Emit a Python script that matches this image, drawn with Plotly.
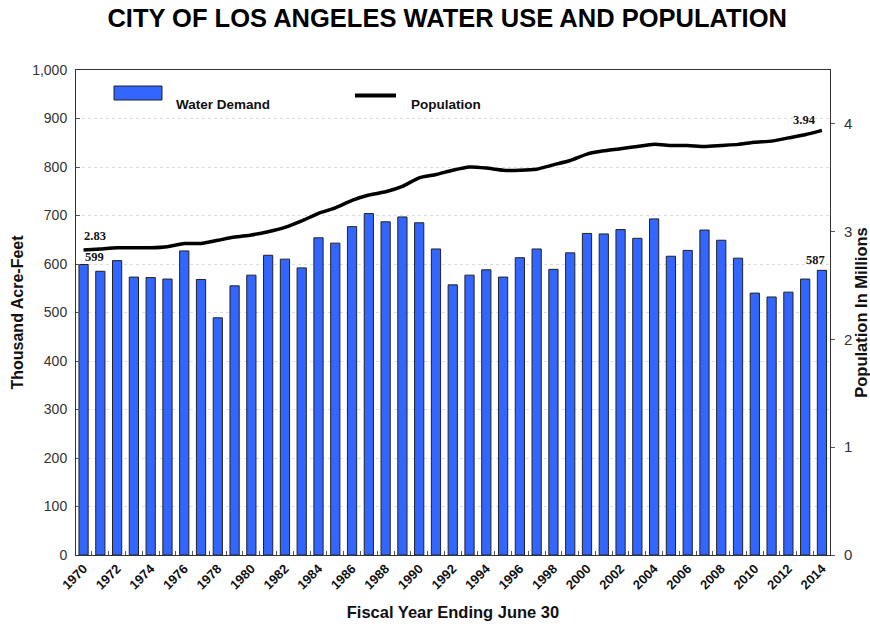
import plotly.graph_objects as go

# Fiscal years and values
years = list(range(1970, 2015))
water_demand = [599, 585, 607, 573, 572, 569, 627, 568, 489, 555,
                577, 618, 610, 592, 654, 643, 677, 704, 687, 697,
                685, 631, 557, 577, 588, 573, 613, 631, 589, 623,
                663, 662, 671, 653, 693, 616, 628, 670, 649, 612,
                540, 532, 542, 569, 587]
population = [2.83, 2.84, 2.85, 2.85, 2.85, 2.86, 2.89, 2.89, 2.92, 2.95,
              2.97, 3.00, 3.04, 3.10, 3.17, 3.22, 3.29, 3.34, 3.37, 3.42,
              3.50, 3.53, 3.57, 3.60, 3.59, 3.57, 3.57, 3.58, 3.62, 3.66,
              3.72, 3.75, 3.77, 3.79, 3.81, 3.80, 3.80, 3.79, 3.80, 3.81,
              3.83, 3.84, 3.87, 3.90, 3.94]
x_tick_labels = [str(y) for y in range(1970, 2015, 2)]

BLUE = "#3366FF"
SANS = "Liberation Sans, Arial, sans-serif"
SERIF = "Liberation Serif, Times New Roman, serif"

fig = go.Figure()

fig.add_trace(go.Bar(
    x=years, y=water_demand, name="Water Demand",
    width=0.55,
    marker=dict(color=BLUE, line=dict(color="#222222", width=1)),
    showlegend=False,
))

fig.add_trace(go.Scatter(
    x=years, y=population, name="Population", yaxis="y2",
    mode="lines",
    line=dict(color="black", width=3.5, shape="spline", smoothing=0.5),
    showlegend=False,
))

# End-point value labels
fig.add_annotation(x=years[0], y=water_demand[0], text="<b>%d</b>" % water_demand[0],
                   xref="x", yref="y", xanchor="left", yanchor="bottom",
                   xshift=-1, yshift=-2, showarrow=False,
                   font=dict(family=SERIF, size=12.5, color="#111111"))
fig.add_annotation(x=years[-1], y=water_demand[-1], text="<b>%d</b>" % water_demand[-1],
                   xref="x", yref="y", xanchor="right", yanchor="bottom",
                   xshift=5, yshift=1, showarrow=False,
                   font=dict(family=SERIF, size=12.5, color="#111111"))
fig.add_annotation(x=years[0], y=population[0], text="<b>%.2f</b>" % population[0],
                   xref="x", yref="y2", xanchor="left", yanchor="bottom",
                   xshift=-2, yshift=5, showarrow=False,
                   font=dict(family=SERIF, size=12.5, color="#111111"))
fig.add_annotation(x=years[-1], y=population[-1], text="<b>%.2f</b>" % population[-1],
                   xref="x", yref="y2", xanchor="right", yanchor="bottom",
                   xshift=-4, yshift=1, showarrow=False,
                   font=dict(family=SERIF, size=12.5, color="#111111"))

# Legend drawn inside the plot area
fig.add_shape(type="rect", xref="paper", yref="paper",
              x0=(114 - 76) / 754, x1=(162 - 76) / 754,
              y0=(555 - 100) / 485, y1=(555 - 86) / 485,
              fillcolor=BLUE, line=dict(color="#222222", width=1))
fig.add_annotation(x=(174 - 76) / 754, y=(555 - 95) / 485, xref="paper", yref="paper",
                   text="<b>Water Demand</b>", showarrow=False, xanchor="left",
                   font=dict(family=SANS, size=13.5, color="#111111"))
fig.add_shape(type="line", xref="paper", yref="paper",
              x0=(355 - 76) / 754, x1=(396 - 76) / 754,
              y0=(555 - 95.5) / 485, y1=(555 - 95.5) / 485,
              line=dict(color="black", width=4))
fig.add_annotation(x=(409 - 76) / 754, y=(555 - 95) / 485, xref="paper", yref="paper",
                   text="<b>Population</b>", showarrow=False, xanchor="left",
                   font=dict(family=SANS, size=13.5, color="#111111"))

fig.update_layout(
    width=870, height=627,
    margin=dict(l=76, r=40, t=70, b=72),
    paper_bgcolor="white", plot_bgcolor="white",
    title=dict(text="<b>CITY OF LOS ANGELES WATER USE AND POPULATION</b>",
               x=0.514, xanchor="center", y=0.971, yanchor="middle",
               font=dict(family=SANS, size=25.5, color="black")),
    xaxis=dict(
        range=[1969.55, 2014.48], automargin=False,
        tickmode="array", tickvals=list(range(1970, 2015, 2)), ticktext=x_tick_labels,
        tickangle=-45, ticks="",
        tickfont=dict(family=SANS, size=13, color="#111111", weight="bold"),
        showline=True, linecolor="#333333", linewidth=1, mirror=True,
        showgrid=False, zeroline=False,
        minor=dict(tick0=1969.5, dtick=1, ticks="inside", ticklen=4,
                   tickcolor="#555555", showgrid=False),
        title=dict(text="<b>Fiscal Year Ending June 30</b>", standoff=15,
                   font=dict(family=SANS, size=16.5, color="#111111")),
    ),
    yaxis=dict(
        range=[0, 1000], dtick=100, tickformat=",", automargin=False,
        ticks="inside", ticklen=4, tickcolor="#555555",
        ticklabelstandoff=5,
        tickfont=dict(family=SANS, size=14, color="#333333"),
        showline=True, linecolor="#333333", linewidth=1, mirror=True,
        showgrid=True, gridcolor="#dcdcdc", griddash="dot", gridwidth=1,
        zeroline=False,
        title=dict(text="<b>Thousand Acre-Feet</b>", standoff=4,
                   font=dict(family=SANS, size=16, color="#111111")),
    ),
    yaxis2=dict(
        overlaying="y", side="right", automargin=False,
        range=[0, 4.5], tickvals=[0, 1, 2, 3, 4],
        ticks="outside", ticklen=4, tickcolor="#555555",
        ticklabelstandoff=6,
        tickfont=dict(family=SANS, size=15, color="#333333"),
        showgrid=False, zeroline=False, showline=False,
        title=dict(text="<b>Population In Millions</b>", standoff=5,
                   font=dict(family=SANS, size=16.5, color="#111111")),
    ),
    bargap=0.4,
)

fig.write_html("out.html")
